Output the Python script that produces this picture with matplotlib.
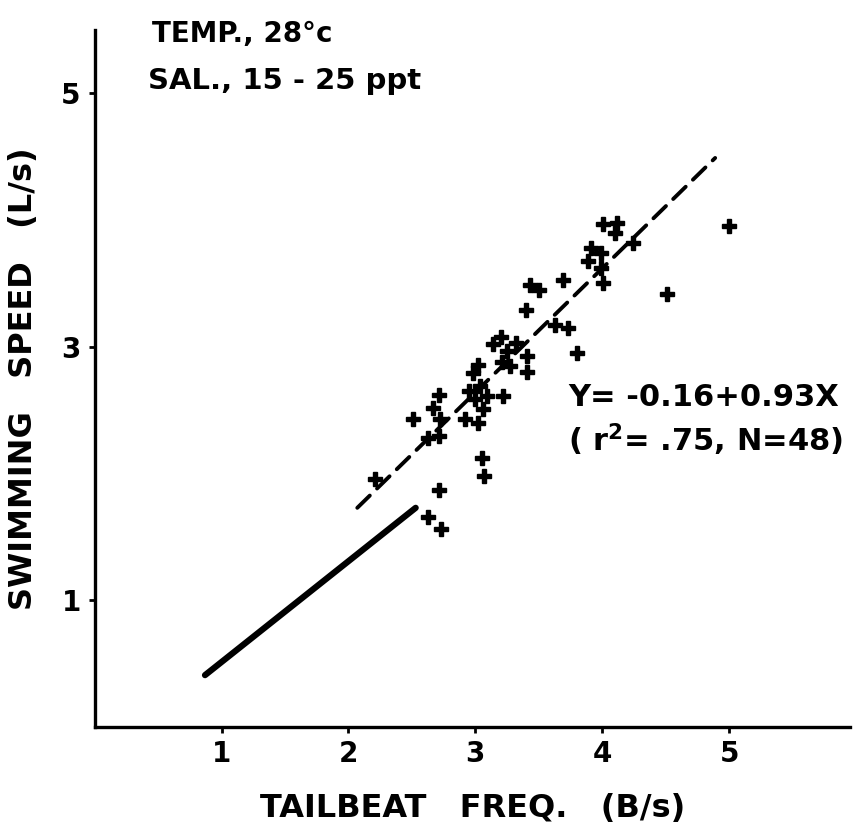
import numpy as np
import matplotlib
matplotlib.use("Agg")
from matplotlib import pyplot as plt

# tailbeat frequency (B/s) vs swimming speed (L/s)
tail_freq = [2.21, 2.51, 2.67, 2.71, 2.72, 2.63, 2.71, 2.71, 2.63, 2.73,
             3.05, 3.07, 2.95, 3.04, 3.00, 3.09, 3.06, 2.92, 3.02, 3.22,
             3.02, 2.98, 3.20, 3.14, 3.32, 3.25, 3.41, 3.21, 3.27, 3.41,
             3.43, 3.50, 3.40, 3.63, 3.73, 3.80, 3.69, 4.01, 4.12, 4.10,
             4.24, 3.91, 3.99, 3.89, 3.99, 4.01, 4.51, 5.00]
swim_speed = [1.96, 2.43, 2.52, 2.62, 2.43, 2.28, 2.30, 1.87, 1.66, 1.56,
              2.12, 1.98, 2.65, 2.69, 2.59, 2.61, 2.51, 2.43, 2.40, 2.61,
              2.86, 2.79, 3.08, 3.02, 3.03, 2.97, 2.93, 2.88, 2.85, 2.80,
              3.49, 3.45, 3.29, 3.17, 3.15, 2.95, 3.53, 3.97, 3.98, 3.90,
              3.82, 3.78, 3.74, 3.68, 3.62, 3.50, 3.42, 3.95]

# regression line (dashed) and the reference line (solid)
fit_x = [2.07, 4.89]
fit_y = [1.73, 4.49]
ref_x = [0.87, 2.53]
ref_y = [0.41, 1.73]

x_ticks = [1, 2, 3, 4, 5]
y_ticks = [1, 3, 5]

plt.rcParams['font.family'] = ['DejaVu Sans']
plt.rcParams['font.weight'] = 'bold'

fig = plt.figure(figsize=(8.6, 8.31), dpi=100)
ax = fig.add_axes([0.110, 0.125, 0.878, 0.839])

ax.plot(ref_x, ref_y, color='black', lw=4.5, solid_capstyle='round')
ax.plot(fit_x, fit_y, color='black', lw=2.8, dashes=(4.5, 2.6),
        dash_capstyle='round')
ax.plot(tail_freq, swim_speed, linestyle='none', marker='P',
        markersize=10.5, color='black')

ax.set_xlim(0, 5.95)
ax.set_ylim(0, 5.5)

for side in ['top', 'right']:
    ax.spines[side].set_visible(False)
for side in ['left', 'bottom']:
    ax.spines[side].set_linewidth(2.4)

ax.set_xticks(x_ticks)
ax.set_xticklabels([str(t) for t in x_ticks])
ax.set_yticks(y_ticks)
ax.set_yticklabels([str(t) for t in y_ticks])
ax.tick_params(axis='both', length=4, width=2, labelsize=20, direction='out')
ax.tick_params(axis='x', pad=5)
ax.tick_params(axis='y', pad=6)

ax.set_xlabel('TAILBEAT   FREQ.   (B/s)', fontsize=23, fontweight='bold',
              labelpad=18)
ax.set_ylabel('SWIMMING   SPEED   (L/s)', fontsize=23, fontweight='bold',
              labelpad=16)

ax.text(0.45, 5.47, 'TEMP., 28°c', fontsize=20, fontweight='bold',
        va='center', ha='left')
ax.text(0.42, 5.1, 'SAL., 15 - 25 ppt', fontsize=21, fontweight='bold',
        va='center', ha='left')

ax.text(3.73, 2.6, 'Y= -0.16+0.93X', fontsize=22, fontweight='bold',
        va='center', ha='left')
ax.text(3.73, 2.27, r'( r$^\mathbf{2}$= .75, N=48)', fontsize=22,
        fontweight='bold', va='center', ha='left')

fig.savefig('out.png', dpi=100)
